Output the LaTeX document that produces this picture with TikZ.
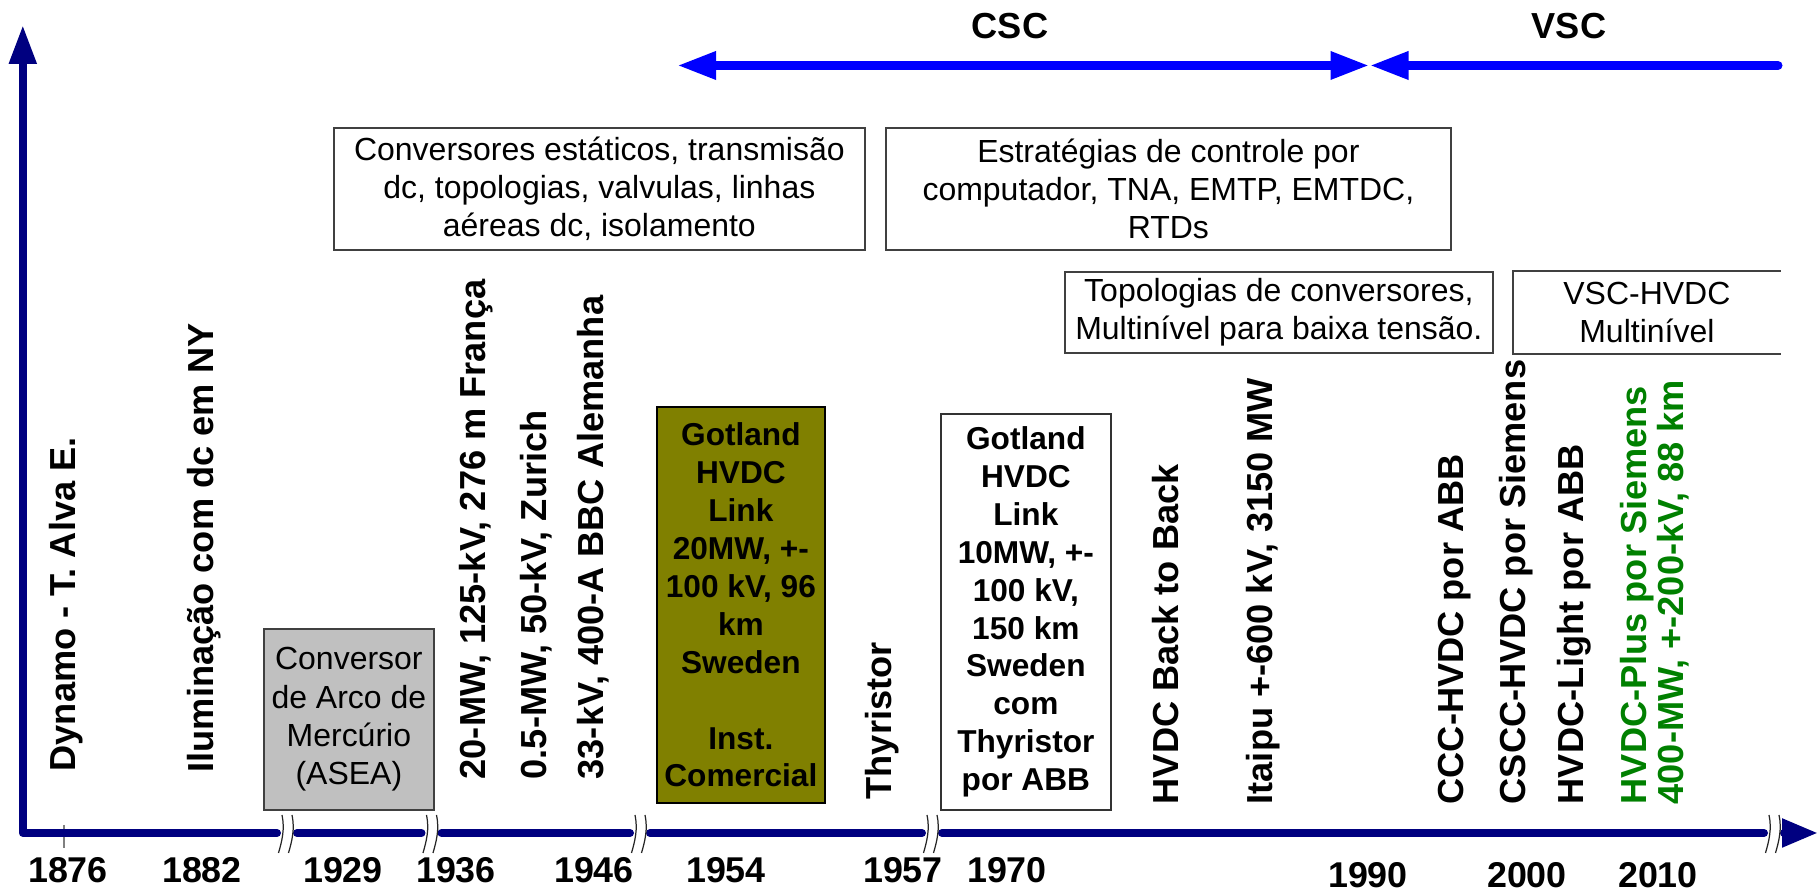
\documentclass[tikz,border=0pt]{standalone}
\usepackage{fontspec}
\setmainfont{Liberation Sans}
\usepackage{tikz}
\usetikzlibrary{arrows.meta,positioning}
\definecolor{axisnavy}{RGB}{0,0,128}
\definecolor{erablue}{RGB}{0,0,255}
\definecolor{linkolive}{RGB}{128,128,0}
\definecolor{plusgreen}{RGB}{0,128,0}
\definecolor{mercgray}{RGB}{192,192,192}

\begin{document}
\begin{tikzpicture}[>=Latex,every node/.style={inner sep=0pt},
    axis/.style={line width=0.8mm,color=axisnavy,line cap=round,line join=round},
    brk/.style={line width=0.35pt,black!85},
    era/.style={line width=0.9mm,color=erablue},
    tag/.style={rotate=90,anchor=base west,font=\fontsize{10.3}{12}\selectfont\bfseries},
    yr/.style={anchor=base,font=\fontsize{10.2}{12}\selectfont\bfseries},
    topic/.style={draw=black!75,line width=0.5pt,align=center,anchor=north west,
      font=\fontsize{9.1}{10.9}\selectfont},
    event/.style={draw=black!80,line width=0.5pt,align=center,anchor=north west,
      minimum width=1.70cm,minimum height=3.96cm,font=\fontsize{9}{10.8}\selectfont\bfseries}]
  \useasboundingbox (0,0) rectangle (18.2,8.93);

  % axes
  \coordinate (O) at (0.228,0.60);
  \coordinate (ytip) at (0.228,8.68);
  \coordinate (xtip) at (18.18,0.60);
  \draw[gray,line width=0.4pt] (0.64,0.68) -- (0.64,0.45);
  \draw[axis,-{Triangle[length=3.9mm,width=2.6mm]}] (2.77,0.60) -- (O) -- (ytip);
  \foreach \a/\b in {2.97/4.215,4.415/6.30,6.50/9.22,9.42/17.64}
    \draw[axis] (\a,0.60) -- (\b,0.60);
  \draw[axis,-{Triangle[length=3.6mm,width=2.7mm]}] (17.84,0.60) -- (xtip);
  \foreach \c in {2.87,4.315,6.40,9.32,17.74} {
    \draw[brk] (\c-0.05,0.78) .. controls (\c-0.02,0.64) and (\c-0.05,0.52) .. (\c-0.085,0.40);
    \draw[brk] (\c+0.05,0.78) .. controls (\c+0.08,0.64) and (\c+0.05,0.52) .. (\c+0.015,0.40);
  }

  % years
  \node[yr] (y1876) at (0.68,0.10) {1876};
  \node[yr] (y1882) at (2.02,0.10) {1882};
  \node[yr] (y1929) at (3.43,0.10) {1929};
  \node[yr] (y1936) at (4.56,0.10) {1936};
  \node[yr] (y1946) at (5.94,0.10) {1946};
  \node[yr] (y1954) at (7.26,0.10) {1954};
  \node[yr] (y1957) at (9.03,0.10) {1957};
  \node[yr] (y1970) at (10.07,0.10) {1970};
  \node[yr] (y1990) at (13.68,0.05) {1990};
  \node[yr] (y2000) at (15.27,0.05) {2000};
  \node[yr] (y2010) at (16.58,0.05) {2010};

  % CSC / VSC eras
  \coordinate (cscL) at (6.77,8.275);
  \coordinate (eraM) at (13.695,8.275);
  \coordinate (vscR) at (17.78,8.275);
  \draw[era,{Triangle[length=3.9mm,width=2.6mm]}-{Triangle[length=3.9mm,width=2.6mm]}] (cscL) -- (eraM);
  \draw[era,line cap=round,-{Triangle[length=3.9mm,width=2.6mm]}] (vscR) -- (eraM);
  \node[font=\fontsize{10.3}{12}\selectfont\bfseries] (csc) at (10.10,8.67) {CSC};
  \node[font=\fontsize{10.3}{12}\selectfont\bfseries] (vsc) at (15.69,8.67) {VSC};

  % topic boxes
  \node[topic,minimum width=5.31cm,minimum height=1.22cm] (estat) at (3.33,7.66)
    {Conversores estáticos, transmisão\\dc, topologias, valvulas, linhas\\aéreas dc, isolamento};
  \node[topic,minimum width=5.65cm,minimum height=1.22cm] (estrat) at (8.85,7.66)
    {Estratégias de controle por\\computador, TNA, EMTP, EMTDC,\\RTDs};
  \node[topic,minimum width=4.28cm,minimum height=0.81cm] (topol) at (10.64,6.22)
    {Topologias de conversores,\\Multinível para baixa tensão.};
  \node[topic,draw=none,minimum width=2.66cm,minimum height=0.81cm] (multi) at (15.13,6.22)
    {VSC-HVDC\\Multinível};
  \draw[black!75,line width=0.5pt] (multi.north east) -- (multi.north west)
    -- (multi.south west) -- (multi.south east);

  % event boxes
  \node[topic,fill=mercgray,minimum width=1.70cm,minimum height=1.81cm] (asea) at (2.63,2.65)
    {Conversor\\de Arco de\\Mercúrio\\(ASEA)};
  \node[event,fill=linkolive,draw=black,minimum width=1.68cm] (got54) at (6.56,4.87)
    {Gotland\\HVDC\\Link\\20MW, +-\\100 kV, 96\\km\\Sweden\\[10.8pt]Inst.\\Comercial};
  \node[event] (got70) at (9.40,4.80)
    {Gotland\\HVDC\\Link\\10MW, +-\\100 kV,\\150 km\\Sweden\\com\\Thyristor\\por ABB};

  % vertical labels
  \node[tag] (dynamo) at (0.75,1.21) {Dynamo - T. Alva E.};
  \node[tag] (ilum) at (2.13,1.20) {Iluminação com dc em NY};
  \node[tag] (franca) at (4.85,1.13) {20-MW, 125-kV, 276 m França};
  \node[tag] (zurich) at (5.46,1.13) {0.5-MW, 50-kV, Zurich};
  \node[tag] (bbc) at (6.03,1.13) {33-kV, 400-A BBC Alemanha};
  \node[tag] (thyr) at (8.91,0.93) {Thyristor};
  \node[tag] (b2b) at (11.78,0.88) {HVDC Back to Back};
  \node[tag] (itaipu) at (12.72,0.88) {Itaipu +-600 kV, 3150 MW};
  \node[tag] (ccc) at (14.63,0.88) {CCC-HVDC por ABB};
  \node[tag] (cscc) at (15.25,0.88) {CSCC-HVDC por Siemens};
  \node[tag] (light) at (15.83,0.88) {HVDC-Light por ABB};
  \node[tag,plusgreen] (plus) at (16.46,0.88) {HVDC-Plus por Siemens};
  \node[tag,plusgreen] (plusdata) at (16.83,0.88) {400-MW, +-200-kV, 88 km};
\end{tikzpicture}
\end{document}
